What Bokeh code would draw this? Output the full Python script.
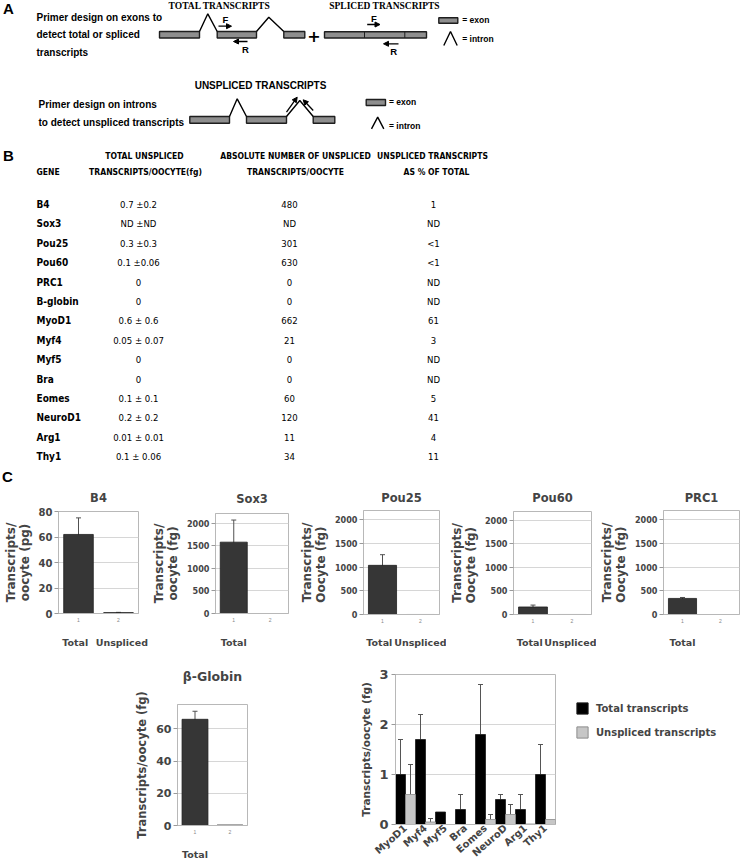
from bokeh.plotting import figure
from bokeh.models import (Range1d, FactorRange, ColumnDataSource, Whisker, TeeHead, Legend,
                          LegendItem, CategoricalAxis, Arrow, NormalHead, FixedTicker)
from bokeh.layouts import column, row
from bokeh.transform import dodge
from bokeh.core.properties import value
from bokeh.embed import file_html
from bokeh.resources import INLINE

# ---------------------------------------------------------------- data
genes_b = ["B4", "Sox3", "Pou25", "Pou60", "PRC1", "B-globin", "MyoD1", "Myf4", "Myf5",
           "Bra", "Eomes", "NeuroD1", "Arg1", "Thy1"]
total_unspliced_fg = ["0.7 \u00b10.2", "ND \u00b1ND", "0.3 \u00b10.3", "0.1 \u00b10.06", "0", "0",
                      "0.6 \u00b1 0.6", "0.05 \u00b1 0.07", "0", "0", "0.1 \u00b1 0.1",
                      "0.2 \u00b1 0.2", "0.01 \u00b1 0.01", "0.1 \u00b1 0.06"]
absolute_unspliced = ["480", "ND", "301", "630", "0", "0", "662", "21", "0", "0", "60", "120", "11", "34"]
unspliced_pct = ["1", "ND", "<1", "<1", "ND", "ND", "61", "3", "ND", "ND", "5", "41", "4", "11"]

bar_categories = ["Total", "Unspliced"]
bar_numbers = ["1", "2"]
b4_values = [62, 0.7]
b4_errors = [13, 0.2]
sox3_values = [1580, 0]
sox3_errors = [490, 0]
pou25_values = [1040, 0.3]
pou25_errors = [225, 0]
pou60_values = [160, 0.1]
pou60_errors = [40, 0]
prc1_values = [340, 0]
prc1_errors = [20, 0]
bglobin_values = [66, 0.3]
bglobin_errors = [5, 0]

multi_genes = ["MyoD1", "Myf4", "Myf5", "Bra", "Eomes", "NeuroD", "Arg1", "Thy1"]
multi_total = [1.0, 1.7, 0.25, 0.3, 1.8, 0.5, 0.3, 1.0]
multi_total_err = [0.7, 0.5, 0.0, 0.3, 1.0, 0.1, 0.3, 0.6]
multi_unspliced = [0.6, 0.05, 0.0, 0.0, 0.1, 0.2, 0.01, 0.1]
multi_unspliced_err = [0.6, 0.07, 0.0, 0.0, 0.1, 0.2, 0.0, 0.0]
legend_labels = ["Total transcripts", "Unspliced transcripts"]

# ---------------------------------------------------------------- layout constants
W = 740
ROW1_Y0 = 486
ROW2_Y0 = 650
H_TOP = ROW1_Y0
H_ROW1 = ROW2_Y0 - ROW1_Y0
H_ROW2 = 865 - ROW2_Y0

ARIAL = "Liberation Sans"
COND = "DejaVu Sans Condensed"
SANS = "DejaVu Sans"
SERIF = "Liberation Serif"
TOTAL_FILL = "black"
UNS_FILL = "#c6c6c6"


def txt(p, x, y, s, size, font=SANS, style="bold", align="left", baseline="middle", color="black"):
    p.text(x=[x], y=[y], text=[s], text_font=value(font), text_font_size=f"{size}px",
           text_font_style=style, text_align=align, text_baseline=baseline, text_color=color)


# ---------------------------------------------------------------- panels A and B (+ panel letter C)
top = figure(width=W, height=H_TOP, x_range=Range1d(0, 740), y_range=Range1d(H_TOP, 0),
             x_axis_type=None, y_axis_type=None, output_backend="svg", toolbar_location=None,
             min_border=0, outline_line_color=None, frame_align=False)

txt(top, 8, 8, "A", 15, ARIAL, align="center")
txt(top, 8, 155, "B", 15, ARIAL, align="center")
txt(top, 7, 476, "C", 15, ARIAL, align="center")

for s, y in [("Primer design on exons to", 16.7), ("detect total or spliced", 34.3), ("transcripts", 52.3)]:
    txt(top, 36, y, s, 10, ARIAL)
for s, y in [("Primer design on introns", 104), ("to detect unspliced transcripts", 121.7)]:
    txt(top, 38, y, s, 10, ARIAL)
txt(top, 219, 5, "TOTAL TRANSCRIPTS", 9.5, SERIF, align="center")
txt(top, 384, 5, "SPLICED TRANSCRIPTS", 9.5, SERIF, align="center")
txt(top, 260, 85, "UNSPLICED TRANSCRIPTS", 10, ARIAL, align="center")

EX_FILL = "#8e8e8e"
EX_LINE = "#1e1e1e"


def exons(lefts, rights, ytop, ybot):
    top.quad(left=lefts, right=rights, top=[ytop] * len(lefts), bottom=[ybot] * len(lefts),
             fill_color=EX_FILL, line_color=EX_LINE, line_width=1.4)


def intron(xs, ys):
    top.line(x=xs, y=ys, line_color="black", line_width=1.4)


def arrow(x0, y0, x1, y1):
    top.add_layout(Arrow(end=NormalHead(size=5, fill_color="black", line_color="black"),
                         x_start=x0, y_start=y0, x_end=x1, y_end=y1,
                         line_color="black", line_width=1.3))


# total transcripts gene
exons([159, 216.7, 283.3], [199, 256, 304.3], 31, 37.5)
intron([199, 207.3, 216.7], [31, 13.3, 31])
intron([256, 268.3, 283.3], [31, 16.7, 31])
arrow(218, 25.7, 231, 25.7)
txt(top, 225, 19.3, "F", 9.5, ARIAL, align="center")
arrow(247, 41, 233, 41)
txt(top, 245, 48.5, "R", 9.5, ARIAL, align="center")
txt(top, 313.5, 35, "+", 16, SANS, align="center")
# spliced transcripts
exons([324], [426], 31.3, 37.5)
top.segment(x0=[364, 404.3], y0=[31.3, 31.3], x1=[364, 404.3], y1=[37.5, 37.5],
            line_color=EX_LINE, line_width=1)
arrow(366.7, 24, 379.5, 24)
txt(top, 373.3, 18.3, "F", 9.5, ARIAL, align="center")
arrow(398, 43.3, 383, 43.3)
txt(top, 393.3, 51, "R", 9.5, ARIAL, align="center")
# legend 1
exons([438.3], [457.3], 17.3, 22.7)
txt(top, 461.7, 19.3, "= exon", 8.5, ARIAL)
intron([443.3, 450, 456.7], [45, 31, 45])
txt(top, 461.7, 38.3, "= intron", 8.5, ARIAL)

# unspliced gene
exons([189.3, 246, 312.7], [229, 286, 334.3], 116, 122.7)
intron([229, 236.7, 246], [116, 98.3, 116])
intron([286, 299.3, 312.7], [116, 100, 116])
arrow(286, 111.7, 296.7, 96.7)
arrow(312.7, 110, 302.7, 99.3)
exons([365.7], [385], 99, 105)
txt(top, 388.5, 101.7, "= exon", 8.5, ARIAL)
intron([371, 377.2, 383.3], [128.3, 116.7, 128.3])
txt(top, 388.5, 125.7, "= intron", 8.5, ARIAL)

# panel B table
HL1, HL2 = 155, 171
txt(top, 36, HL2, "GENE", 8.5, COND)
txt(top, 144, HL1, "TOTAL UNSPLICED", 8.5, COND, align="center")
txt(top, 145, HL2, "TRANSCRIPTS/OOCYTE(fg)", 8.5, COND, align="center")
txt(top, 295, HL1, "ABSOLUTE NUMBER OF UNSPLICED", 8.5, COND, align="center")
txt(top, 295, HL2, "TRANSCRIPTS/OOCYTE", 8.5, COND, align="center")
txt(top, 432, HL1, "UNSPLICED TRANSCRIPTS", 8.5, COND, align="center")
txt(top, 436, HL2, "AS % OF TOTAL", 8.5, COND, align="center")

row_y = [204 + 19.4 * i for i in range(len(genes_b))]
tbl = ColumnDataSource(dict(y=row_y, gene=genes_b, c1=total_unspliced_fg,
                            c2=absolute_unspliced, c3=unspliced_pct))
top.text(x=36, y="y", text="gene", source=tbl, text_font=value(COND), text_font_size="10px",
         text_font_style="bold", text_baseline="middle", text_align="left")
for col, cx in [("c1", 138), ("c2", 289), ("c3", 433)]:
    top.text(x=cx, y="y", text=col, source=tbl, text_font=value(COND), text_font_size="9.5px",
             text_baseline="middle", text_align="center")


# ---------------------------------------------------------------- chart helpers
def frame_fig(x0, x1, fl, fr, ft, fb, y0, h, **kw):
    width = round(x1) - round(x0)
    left = round(fl) - round(x0)
    fw = round(fr) - round(fl)
    top_b = round(ft - y0)
    fh = round(fb - ft)
    p = figure(width=width, height=h, output_backend="svg", toolbar_location=None,
               min_border_left=left, min_border_right=width - left - fw,
               min_border_top=top_b, min_border_bottom=h - top_b - fh, frame_align=False, **kw)
    p.outline_line_color = "#b8b8b8"
    p.xgrid.visible = False
    p.ygrid.grid_line_color = "#d6d6d6"
    return p, top_b


def style_y(p, ticks, tick_font, tick_size, label, label_size):
    t = FixedTicker(ticks=ticks)
    p.yaxis.ticker = t
    p.ygrid.ticker = t
    ax = p.yaxis[0]
    ax.axis_line_color = "#b8b8b8"
    ax.major_tick_line_color = "#9a9a9a"
    ax.major_tick_out = 4
    ax.major_tick_in = 0
    ax.minor_tick_line_color = None
    ax.major_label_text_font = tick_font
    ax.major_label_text_font_size = f"{tick_size}px"
    ax.major_label_text_font_style = "bold"
    ax.major_label_standoff = 2
    ax.axis_label = label
    ax.axis_label_text_font = SANS
    ax.axis_label_text_font_size = f"{label_size}px"
    ax.axis_label_text_font_style = "bold"
    ax.axis_label_text_line_height = 1.0
    ax.axis_label_standoff = 4


def single_chart(title, vals, errs, ylabel, ymax, ticks, geom, y0, h, show_uns,
                 tick_font=COND, tick_size=9, label_size=12, title_size=11.5, word_standoff=12):
    x0, x1, fl, fr, ft, fb = geom
    p, top_b = frame_fig(x0, x1, fl, fr, ft, fb, y0, h,
                         x_range=FactorRange(factors=bar_categories),
                         y_range=Range1d(0, ymax), title=title, x_axis_type=None)
    if show_uns:
        words = FactorRange(factors=list(bar_categories), factor_padding=0.4)
    else:
        words = FactorRange(factors=[bar_categories[0], " "])
    p.extra_x_ranges = {"num": FactorRange(factors=bar_numbers), "words": words}
    p.title.text_font = SANS
    p.title.text_font_size = f"{title_size}px"
    p.title.text_font_style = "bold"
    p.title.align = "center"
    p.title.vertical_align = "top"
    p.title.standoff = max(0, top_b - round(title_size * 1.2))
    src = ColumnDataSource(dict(cat=bar_categories, val=vals))
    p.vbar(x="cat", top="val", width=0.74, source=src, fill_color="#363636",
           line_color="#202020", line_width=0.8)
    wcat = [c for c, e in zip(bar_categories, errs) if e > 0]
    wlo = [v - e for v, e in zip(vals, errs) if e > 0]
    whi = [v + e for v, e in zip(vals, errs) if e > 0]
    wsrc = ColumnDataSource(dict(cat=wcat, lo=wlo, hi=whi))
    p.add_layout(Whisker(base="cat", lower="lo", upper="hi", source=wsrc, line_color="#505050",
                         line_width=1, lower_head=None,
                         upper_head=TeeHead(size=5, line_color="#505050", line_width=1)))
    style_y(p, ticks, tick_font, tick_size, ylabel, label_size)
    ax1 = CategoricalAxis(x_range_name="num", major_label_text_font_size="5px",
                          major_label_text_color="#888888", major_tick_line_color=None,
                          major_tick_out=0, major_tick_in=0, axis_line_color="#b8b8b8",
                          major_label_standoff=4)
    p.add_layout(ax1, "below")
    ax2 = CategoricalAxis(x_range_name="words", axis_line_color=None, major_tick_line_color=None,
                          major_tick_out=0, major_tick_in=0, major_label_standoff=word_standoff,
                          major_label_text_font=SANS, major_label_text_font_size="9.5px",
                          major_label_text_font_style="bold")
    p.add_layout(ax2, "below")
    return p


b4 = single_chart("B4", b4_values, b4_errors, "Transcripts/\noocyte (pg)", 80, [0, 20, 40, 60, 80],
                  (0, 148, 53.3, 137.7, 509, 613.3), ROW1_Y0, H_ROW1, True, tick_font=SANS, tick_size=10)
sox3 = single_chart("Sox3", sox3_values, sox3_errors, "Transcripts/\noocyte (fg)", 2215,
                    [0, 500, 1000, 1500, 2000], (148, 296, 209.3, 288.3, 510.7, 614),
                    ROW1_Y0, H_ROW1, False)
pou25 = single_chart("Pou25", pou25_values, pou25_errors, "Transcripts/\nOocyte  (fg)", 2200,
                     [0, 500, 1000, 1500, 2000], (296, 446, 361.5, 439, 507.5, 616),
                     ROW1_Y0, H_ROW1, True, word_standoff=11)
pou60 = single_chart("Pou60", pou60_values, pou60_errors, "Transcripts/\nOocyte  (fg)", 2190,
                     [0, 500, 1000, 1500, 2000], (446, 596, 511, 590.7, 509, 616),
                     ROW1_Y0, H_ROW1, True, word_standoff=11)
prc1 = single_chart("PRC1", prc1_values, prc1_errors, "Transcripts/\nOocyte  (fg)", 2200,
                    [0, 500, 1000, 1500, 2000], (596, 740, 655.7, 739, 508.3, 616),
                    ROW1_Y0, H_ROW1, False, word_standoff=11)

bglob = single_chart("\u03b2-Globin", bglobin_values, bglobin_errors, "Transcripts/oocyte (fg)", 75.2,
                     [0, 20, 40, 60], (0, 300, 176.7, 247.3, 701.7, 825), ROW2_Y0, H_ROW2, False,
                     tick_font=SANS, tick_size=11, label_size=11.5, title_size=12.5, word_standoff=12)

# ---------------------------------------------------------------- multi-gene chart
mg, mg_top = frame_fig(300, 570, 395, 555, 674.3, 827, ROW2_Y0, H_ROW2,
                       x_range=FactorRange(factors=multi_genes), y_range=Range1d(0, 3))
msrc = ColumnDataSource(dict(gene=multi_genes, total=multi_total, uns=multi_unspliced))
mg.vbar(x=dodge("gene", -0.25, range=mg.x_range), top="total", width=0.5, source=msrc,
        fill_color=TOTAL_FILL, line_color="#1a1a1a", line_width=0.8)
mg.vbar(x=dodge("gene", 0.25, range=mg.x_range), top="uns", width=0.5, source=msrc,
        fill_color=UNS_FILL, line_color="#8c8c8c", line_width=0.8)
for vals, errs, off in [(multi_total, multi_total_err, -0.25),
                        (multi_unspliced, multi_unspliced_err, 0.25)]:
    ws = ColumnDataSource(dict(
        gene=[g for g, e in zip(multi_genes, errs) if e > 0],
        lo=[v for v, e in zip(vals, errs) if e > 0],
        hi=[v + e for v, e in zip(vals, errs) if e > 0]))
    mg.add_layout(Whisker(base=dodge("gene", off, range=mg.x_range), lower="lo", upper="hi",
                          source=ws, line_color="#555555", line_width=1, lower_head=None,
                          upper_head=TeeHead(size=5, line_color="#555555", line_width=1)))
style_y(mg, [0, 1, 2, 3], SANS, 13, "Transcripts/oocyte (fg)", 10.5)
mg.yaxis[0].major_label_standoff = 3
xa = mg.xaxis[0]
xa.major_label_orientation = 0.72
xa.major_label_text_font = SANS
xa.major_label_text_font_size = "10px"
xa.major_label_text_font_style = "bold"
xa.major_label_standoff = 2
xa.major_tick_out = 0
xa.major_tick_in = 0
xa.major_tick_line_color = None
xa.axis_line_color = "#b8b8b8"

# legend for the multi-gene chart (own small canvas to its right); its two
# placeholder bars are zero-height and outside the visible range, only the swatches show
LEG_X0, LEG_TOP, LEG_LEFT = 570, 701, 575
lf = figure(width=W - LEG_X0, height=H_ROW2, x_range=Range1d(0, 1), y_range=Range1d(0, 1),
            x_axis_type=None, y_axis_type=None, output_backend="svg", toolbar_location=None,
            min_border_left=LEG_LEFT - LEG_X0, min_border_top=LEG_TOP - ROW2_Y0,
            min_border_right=0, min_border_bottom=0, outline_line_color=None, frame_align=False)
OFFSCREEN = -10
lr_tot = lf.vbar(x=[OFFSCREEN], top=[OFFSCREEN], bottom=[OFFSCREEN], width=0.5,
                 fill_color=TOTAL_FILL, line_color="#1a1a1a")
lr_uns = lf.vbar(x=[OFFSCREEN], top=[OFFSCREEN], bottom=[OFFSCREEN], width=0.5,
                 fill_color=UNS_FILL, line_color="#8c8c8c")
leg = Legend(items=[LegendItem(label=legend_labels[0], renderers=[lr_tot]),
                    LegendItem(label=legend_labels[1], renderers=[lr_uns])],
             location="top_left", border_line_color=None, background_fill_alpha=0,
             glyph_width=14, glyph_height=14, label_height=14, spacing=10, padding=2, margin=0,
             label_standoff=7, label_text_font=SANS, label_text_font_size="10px",
             label_text_font_style="bold")
lf.add_layout(leg)

p = column(top, row(b4, sox3, pou25, pou60, prc1), row(bglob, mg, lf))
open("out.html", "w").write(file_html(p, INLINE))
